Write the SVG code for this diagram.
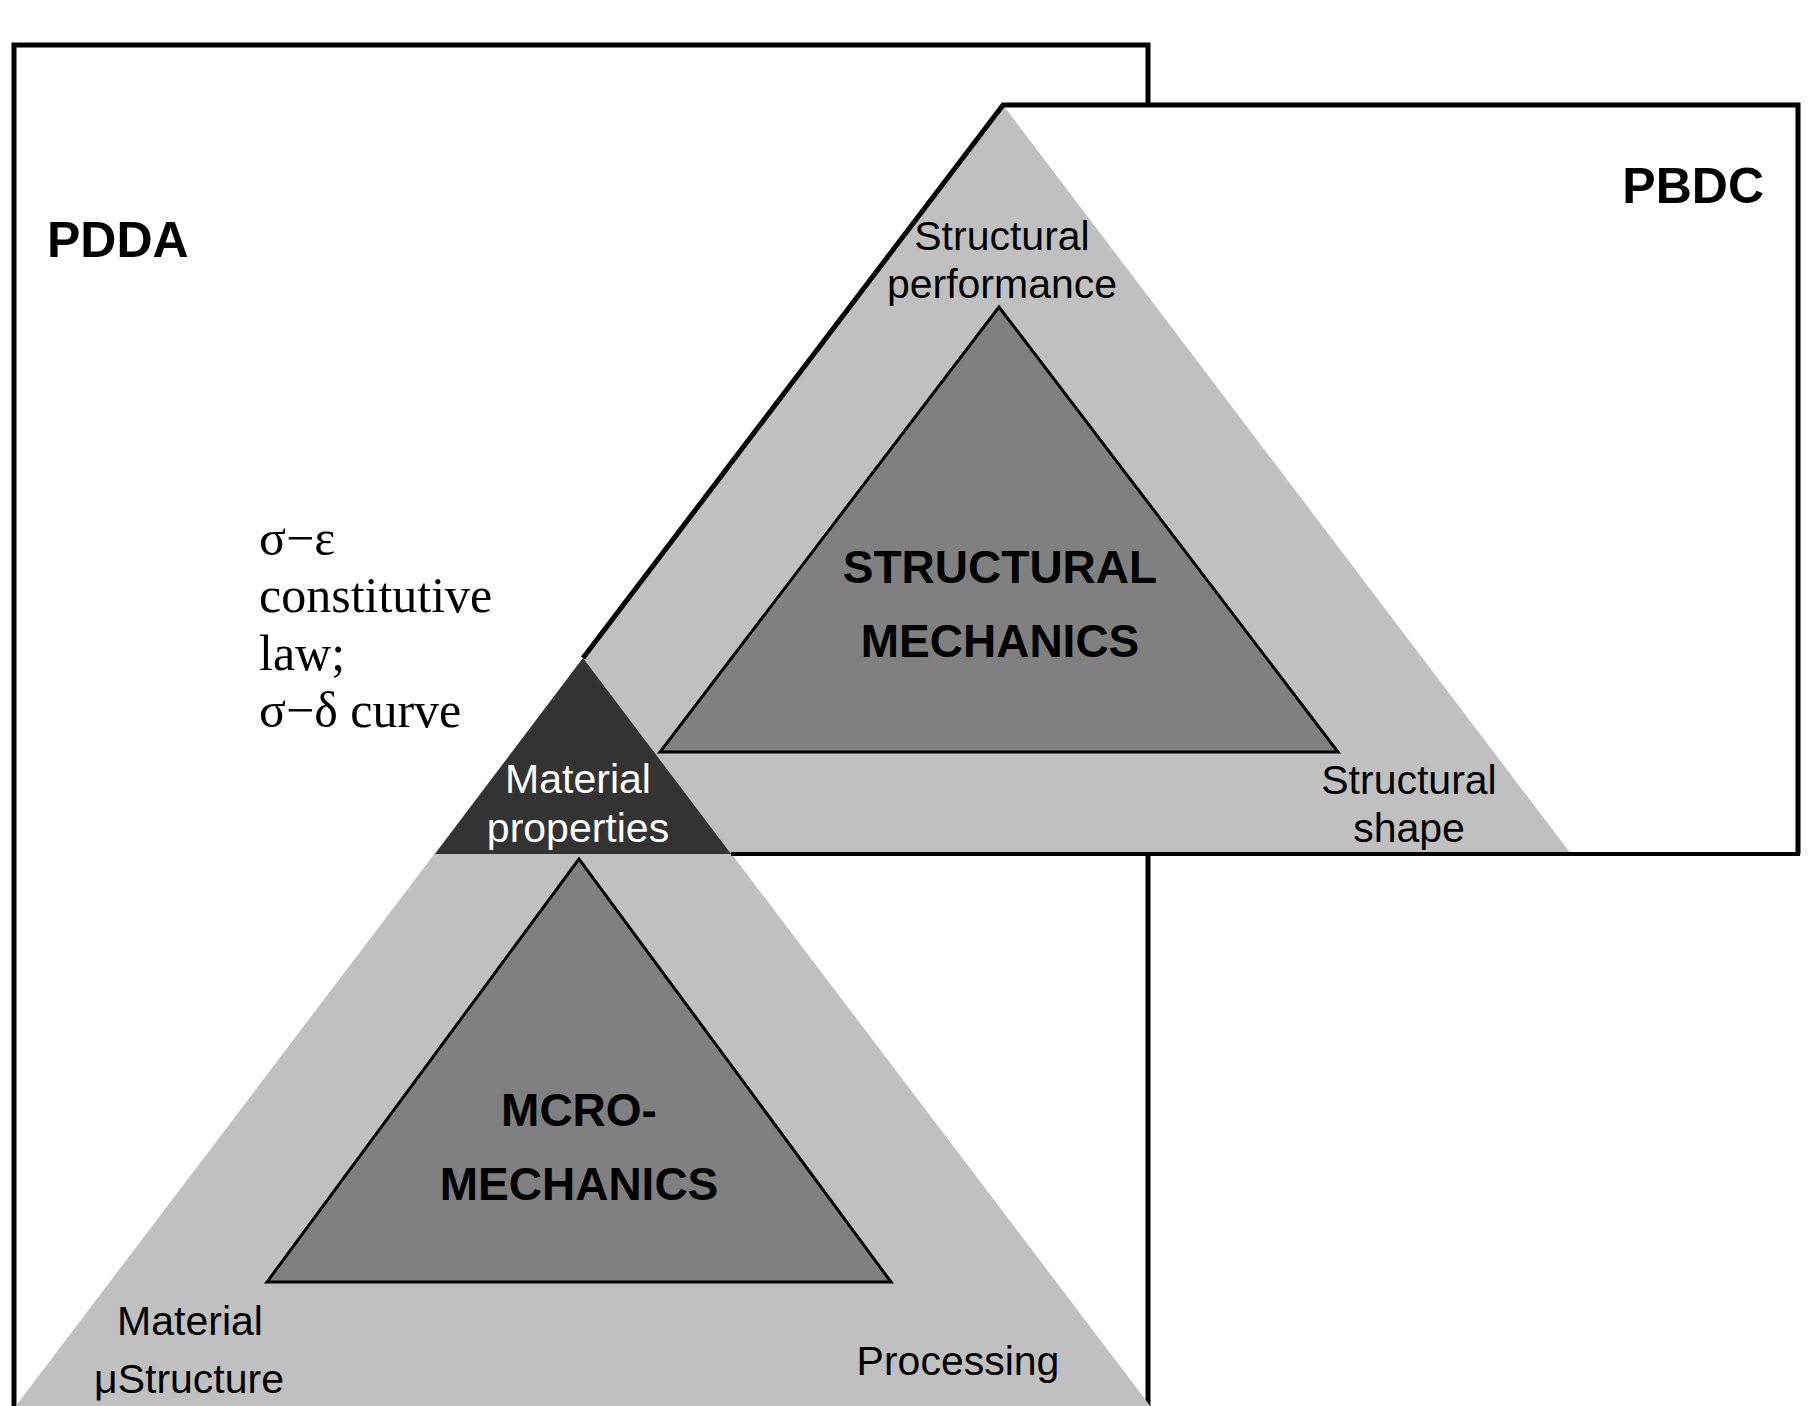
<svg xmlns="http://www.w3.org/2000/svg" width="1817" height="1406" viewBox="0 0 1817 1406">
<style>
.sans{font-family:"Liberation Sans",Arial,sans-serif;font-size:41px;fill:#000;text-anchor:middle}
.bold{font-family:"Liberation Sans",Arial,sans-serif;font-weight:bold;fill:#000}
.serif{font-family:"Liberation Serif","Times New Roman",serif;font-size:50px;fill:#000}
.outer{fill:#c0c0c0;stroke:none}
.inner{fill:#808080;stroke:#000;stroke-width:3;stroke-linejoin:miter}
.line{fill:none;stroke:#000;stroke-width:5}
</style>
<rect width="1817" height="1406" fill="#fff"/>
<g id="pdda-box">
<rect x="14" y="45" width="1134" height="1420" fill="#fff" stroke="#000" stroke-width="5"/>
<text class="bold" x="47" y="257" font-size="50">PDDA</text>
</g>
<g id="pbdc-box">
<rect x="1003" y="105" width="795" height="749" fill="#fff"/>
<text class="bold" x="1764" y="203" font-size="50" text-anchor="end">PBDC</text>
</g>
<g id="upper-triangle">
<polygon class="outer" points="1003,105 435,854 1571,854"/>
<text class="sans" x="1002" y="250">Structural</text>
<text class="sans" x="1002" y="298">performance</text>
<text class="sans" x="1409" y="794">Structural</text>
<text class="sans" x="1409" y="842">shape</text>
</g>
<g id="lower-triangle">
<polygon class="outer" points="583,658 15,1407 1151,1407"/>
<text class="sans" x="190" y="1335">Material</text>
<text class="sans" x="189" y="1393">μStructure</text>
<text class="sans" x="958" y="1375">Processing</text>
</g>
<g id="material-properties">
<polygon fill="#333" points="583,658 435,854 731,854"/>
<text class="sans" x="578" y="793" style="fill:#fff">Material</text>
<text class="sans" x="578" y="842" style="fill:#fff">properties</text>
</g>
<g id="structural-mechanics">
<polygon class="inner" points="999,307 660,752 1338,752"/>
<text class="bold" x="1000" y="583" font-size="46" text-anchor="middle">STRUCTURAL</text>
<text class="bold" x="1000" y="657" font-size="46" text-anchor="middle">MECHANICS</text>
</g>
<g id="micro-mechanics">
<polygon class="inner" points="579,859 267,1282 891,1282"/>
<text class="bold" x="579" y="1126" font-size="46" text-anchor="middle">MCRO-</text>
<text class="bold" x="579" y="1200" font-size="46" text-anchor="middle">MECHANICS</text>
</g>
<g id="connectors">
<path class="line" d="M583,658 L1003,105 L1798,105 L1798,854"/>
<path fill="none" stroke="#000" stroke-width="4" d="M1800,854 L731,854"/>
</g>
<g id="constitutive-label">
<text class="serif" x="259" y="555">σ−ε</text>
<text class="serif" x="259" y="612">constitutive</text>
<text class="serif" x="259" y="670">law;</text>
<text class="serif" x="259" y="727">σ−δ curve</text>
</g>
</svg>
